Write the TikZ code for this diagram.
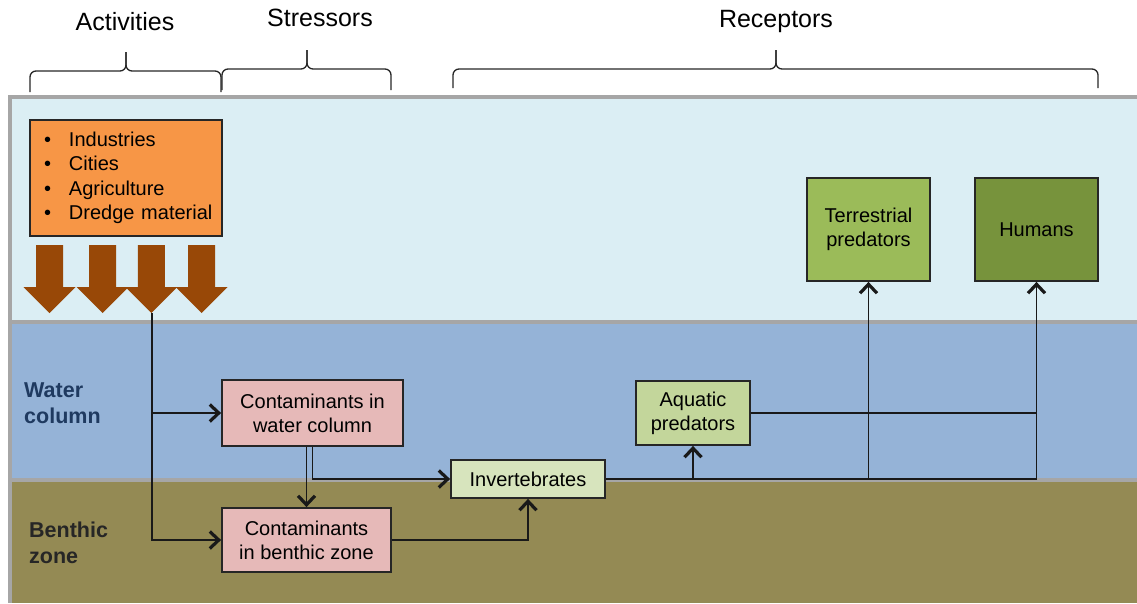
\documentclass[tikz,border=0pt]{standalone}
\usepackage{fontspec}
\setmainfont{Liberation Sans}
\usetikzlibrary{arrows.meta}
\definecolor{skyband}{HTML}{DBEEF4}
\definecolor{waterband}{HTML}{95B3D7}
\definecolor{benthicband}{HTML}{948A54}
\definecolor{frameline}{HTML}{A6A6A6}
\definecolor{orangebox}{HTML}{F79646}
\definecolor{brownarrow}{HTML}{984807}
\definecolor{pinkbox}{HTML}{E6B9B8}
\definecolor{invbox}{HTML}{D7E4BD}
\definecolor{aqbox}{HTML}{C3D69B}
\definecolor{terbox}{HTML}{9BBB59}
\definecolor{humbox}{HTML}{77933C}
\definecolor{navytext}{HTML}{1F3A60}
\definecolor{darktext}{HTML}{262626}
\hyphenpenalty=10000
\exhyphenpenalty=10000
\newcommand{\hbracepath}[6]{%
  \draw[bracestyle] (#1,#4) -- (#1,#5) -- (#3,#5) -- (#3,#6);
  \draw[bracestyle] (#2,#4) -- (#2,#5) -- (#3,#5) -- (#3,#6);
}
\newcommand{\bulletitem}{\makebox[30pt][l]{\hspace{5pt}\textbullet}}
\begin{document}
\begin{tikzpicture}[x=1pt,y=-1pt,
  box/.style={draw=black!85, line width=1.8pt, font=\fontsize{20}{24}\selectfont, align=center, inner sep=2pt},
  conn/.style={line width=1.5pt, draw=black!90},
  arr/.style={conn, -{Straight Barb[length=9pt,width=17pt,line width=3.2pt]}},
  titletext/.style={font=\fontsize{25}{30}\selectfont, anchor=base, inner sep=0pt},
  zonetext/.style={font=\bfseries\fontsize{21.5}{26.5}\selectfont, align=left, anchor=west, inner sep=0pt},
  bracestyle/.style={line width=1.3pt, black!85, rounded corners=6pt},
  bigarrow/.style={fill=brownarrow},
]
\useasboundingbox (0,0) rectangle (1137,603);
% bands
\fill[skyband] (10,97) rectangle (1137,322);
\fill[waterband] (10,322) rectangle (1137,480);
\fill[benthicband] (10,480) rectangle (1137,603);
\draw[frameline, line width=3.5pt] (1137,97) -- (10,97) -- (10,603);
\draw[frameline, line width=3.5pt] (10,322) -- (1137,322);
\draw[frameline, line width=3.5pt] (10,480) -- (1137,480);

% titles and braces
\node[titletext] (tact) at (125,30) {Activities};
\node[titletext] (tstr) at (320,26.5) {Stressors};
\node[titletext] (trec) at (776,27) {Receptors};
\hbracepath{30}{221}{126}{92}{71}{52}
\hbracepath{222}{391}{307}{90}{69}{50}
\hbracepath{453}{1098}{776}{88}{69}{50}

% activities box
\node[box, fill=orangebox, minimum width=192pt, minimum height=116pt, text width=174pt, align=left, inner xsep=9pt, font=\fontsize{20}{24.5}\selectfont] (act) at (126,178)
  {\bulletitem Industries\\
   \bulletitem Cities\\
   \bulletitem Agriculture\\
   \bulletitem Dredge material};

% brown arrows
\foreach \cx in {49.5,102.7,151.3,201.7}{
  \fill[bigarrow] (\cx-13.5,245) -- (\cx+13.5,245) -- (\cx+13.5,287) -- (\cx+26,287) -- (\cx,313) -- (\cx-26,287) -- (\cx-13.5,287) -- cycle;
}
\coordinate (src) at (152,313);

% zone labels
\node[zonetext, text=navytext] (lwater) at (24,403) {Water\\column};
\node[zonetext, text=darktext] (lbenthic) at (29,543) {Benthic\\zone};

% nodes
\node[box, fill=pinkbox, minimum width=181pt, minimum height=66pt] (cw) at (312.5,413) {Contaminants in\\water column};
\node[box, fill=pinkbox, minimum width=169pt, minimum height=64pt] (cb) at (306.5,540) {Contaminants\\in benthic zone};
\node[box, fill=invbox, minimum width=154pt, minimum height=38pt] (inv) at (528,479) {Invertebrates};
\node[box, fill=aqbox, minimum width=114pt, minimum height=64pt] (aq) at (693,413) {Aquatic\\predators};
\node[box, fill=terbox, minimum width=123pt, minimum height=103pt] (ter) at (868.5,229.5) {Terrestrial\\predators};
\node[box, fill=humbox, minimum width=123pt, minimum height=103pt] (hum) at (1036.5,229.5) {Humans};

% connectors
\draw[arr] (src) |- (cb.west);
\draw[arr] (src |- cw.west) -- (cw.west);
\draw[arr] (cb.north |- cw.south) -- (cb.north);
\draw[arr] (cw.south) |- (inv.west);
\draw[arr] (cb.east) -| (inv.south);
\draw[conn] (inv.east) -- (inv.east -| hum.south);
\draw[arr] (inv.east -| aq.south) -- (aq.south);
\draw[arr] (inv.east -| ter.south) -- (ter.south);
\draw[arr] (inv.east -| hum.south) -- (hum.south);
\draw[conn] (aq.east) -- (aq.east -| hum.south);
\end{tikzpicture}
\end{document}
